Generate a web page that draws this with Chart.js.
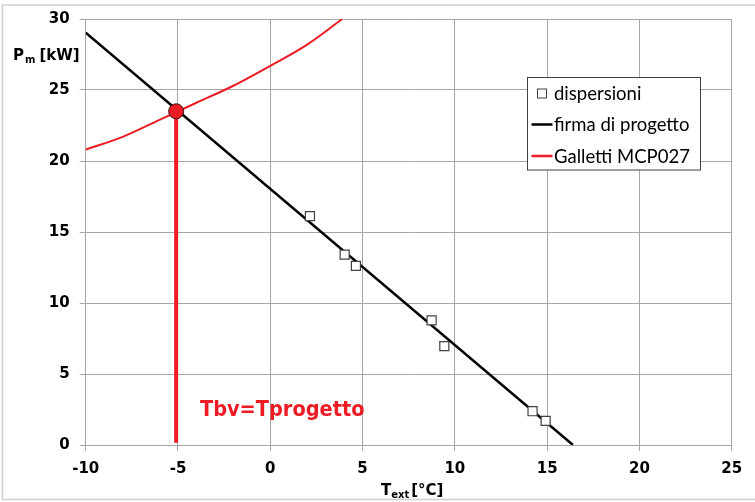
<!DOCTYPE html>
<html><head><meta charset="utf-8">
<script src="https://cdn.jsdelivr.net/npm/chart.js@4"></script>
<style>html,body{margin:0;padding:0;background:#fff}#wrap{width:755px;height:502px;position:relative}</style>
</head><body><div id="wrap"><canvas id="c"></canvas></div>
<script>
// ---- data ----
const dispersioniX = [2.15, 4.03, 4.64, 8.74, 9.43, 14.21, 14.92];
const dispersioniY = [16.12, 13.41, 12.61, 8.78, 6.96, 2.38, 1.70];
const firmaX = [-10, 16.4];
const firmaY = [29.04, 0];
const gallettiX = [-10, -8, -6, -4, -2, 0, 2, 3.9];
const gallettiY = [20.8, 21.7, 22.9, 24.1, 25.3, 26.7, 28.2, 30.0];
const tbvX = [-5.1, -5.1];
const tbvY = [23.5, 0.15];
const xRange = [-10, 25];
const yRange = [0, 30];
const tickStep = 5;
const legendLabels = ['dispersioni', 'firma di progetto', 'Galletti MCP027'];
const annotationText = 'Tbv=Tprogetto';

const RED = '#ed1c24';
const GRID = '#a6a6a6';
const pts = (xs, ys) => xs.map((x, i) => ({x, y: ys[i]}));

const overlay = {
  id: 'overlay',
  afterDraw(chart) {
    const ctx = chart.ctx;
    const xs = chart.scales.x, ys = chart.scales.y;
    ctx.save();
    // outer border
    ctx.strokeStyle = '#cfcfcf';
    ctx.lineWidth = 1.5;
    ctx.strokeRect(2.5, 5, 800, 494.5);

    // axis titles
    ctx.fillStyle = '#000';
    ctx.textBaseline = 'alphabetic';
    ctx.textAlign = 'left';
    const bold = '"DejaVu Sans", sans-serif';
    let x = 13, y = 60;
    ctx.font = 'bold 15px ' + bold; ctx.fillText('P', x, y); x += ctx.measureText('P').width + 1;
    ctx.font = 'bold 10px ' + bold; ctx.fillText('m', x, y + 3); x += ctx.measureText('m').width + 4;
    ctx.font = 'bold 15px ' + bold; ctx.fillText('[kW]', x, y);

    x = 381; y = 495;
    ctx.font = 'bold 15px ' + bold; ctx.fillText('T', x, y); x += ctx.measureText('T').width;
    ctx.font = 'bold 10px ' + bold; ctx.fillText('ext', x, y + 3); x += ctx.measureText('ext').width + 2;
    ctx.font = 'bold 15px ' + bold; ctx.fillText('[°C]', x, y);

    // annotation text
    ctx.fillStyle = RED;
    ctx.font = 'bold 21.5px "DejaVu Sans Condensed", "DejaVu Sans", sans-serif';
    ctx.textBaseline = 'middle';
    ctx.fillText(annotationText, xs.getPixelForValue(-3.81), ys.getPixelForValue(2.45));

    // legend
    const lx = 527.5, ly = 77.5, lw = 173, lh = 92.5;
    ctx.fillStyle = '#fff';
    ctx.fillRect(lx, ly, lw, lh);
    ctx.strokeStyle = '#404040';
    ctx.lineWidth = 1;
    ctx.strokeRect(lx, ly, lw, lh);
    ctx.font = '18.5px Lato, "Open Sans", sans-serif';
    ctx.textBaseline = 'middle';
    ctx.fillStyle = '#000';
    const rows = [93.5, 124.5, 156];
    // marker
    ctx.strokeStyle = '#404040'; ctx.lineWidth = 1; ctx.fillStyle = '#fff';
    ctx.fillRect(537.5, rows[0] - 4.5, 9, 9); ctx.strokeRect(537.5, rows[0] - 4.5, 9, 9);
    ctx.lineWidth = 2.5;
    ctx.strokeStyle = '#000'; ctx.beginPath(); ctx.moveTo(531.5, rows[1]); ctx.lineTo(552.5, rows[1]); ctx.stroke();
    ctx.strokeStyle = RED; ctx.beginPath(); ctx.moveTo(531.5, rows[2]); ctx.lineTo(552.5, rows[2]); ctx.stroke();
    ctx.fillStyle = '#000';
    legendLabels.forEach((t, i) => ctx.fillText(t, 554, rows[i] + 1));
    ctx.restore();
  }
};

new Chart(document.getElementById('c'), {
  type: 'line',
  data: {
    datasets: [
      { label: 'Tbv', data: pts([tbvX[0]], [tbvY[0]]), showLine: false, pointRadius: 7.5,
        pointBackgroundColor: RED, pointBorderColor: '#3a1010', pointBorderWidth: 1, order: 0 },
      { label: 'dispersioni', data: pts(dispersioniX, dispersioniY), showLine: false, pointStyle: 'rect',
        pointRadius: 6.4, pointBackgroundColor: '#fff', pointBorderColor: '#404040', pointBorderWidth: 1.2, order: 1 },
      { label: 'firma di progetto', data: pts(firmaX, firmaY), borderColor: '#000', borderWidth: 2.5,
        pointRadius: 0, order: 3 },
      { label: 'Galletti MCP027', data: pts(gallettiX, gallettiY), borderColor: RED, borderWidth: 2,
        pointRadius: 0, cubicInterpolationMode: 'monotone', order: 4 },
      { label: 'vertical', data: pts(tbvX, tbvY), borderColor: RED, borderWidth: 4, pointRadius: 0, order: 2 }
    ]
  },
  options: {
    responsive: true, maintainAspectRatio: false, animation: false,
    layout: { padding: { left: 0, right: 23.3, top: 16.7, bottom: 0 } },
    plugins: { legend: { display: false }, tooltip: { enabled: false } },
    scales: {
      x: { type: 'linear', min: xRange[0], max: xRange[1],
        ticks: { stepSize: tickStep, color: '#000', padding: 9, font: { family: '"DejaVu Sans", sans-serif', weight: 'bold', size: 15 } },
        grid: { color: GRID, tickLength: 6, lineWidth: 1 }, border: { color: GRID },
        afterFit: s => { s.height = 57; } },
      y: { type: 'linear', min: yRange[0], max: yRange[1],
        ticks: { stepSize: tickStep, color: '#000', padding: 10, font: { family: '"DejaVu Sans", sans-serif', weight: 'bold', size: 15 } },
        grid: { color: GRID, tickLength: 6, lineWidth: 1 }, border: { color: GRID },
        afterFit: s => { s.width = 85.7; } }
    }
  },
  plugins: [overlay]
});
</script>
</body></html>
